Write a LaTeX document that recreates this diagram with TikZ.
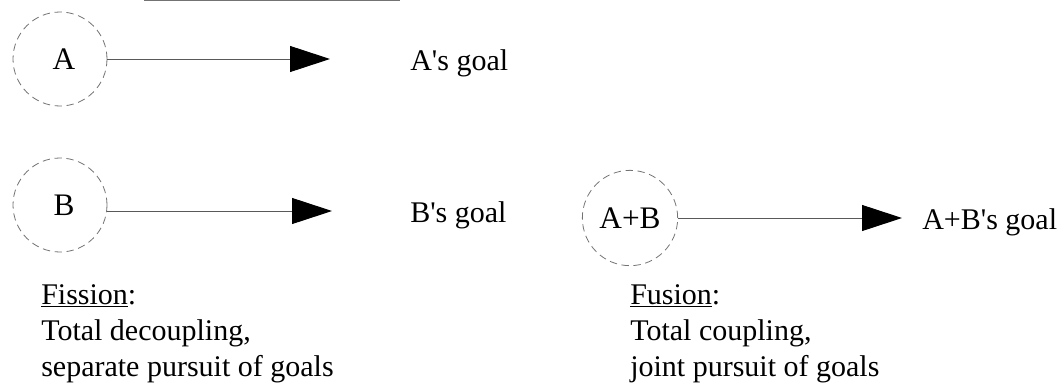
\documentclass[tikz,border=0pt]{standalone}
\usepackage{fontspec}
\setmainfont{Liberation Serif}
\newfontfamily\goalfont{Liberation Serif}
\usetikzlibrary{arrows.meta}
\begin{document}
\begin{tikzpicture}[x=0.75pt,y=-0.75pt,
  agent/.style={circle,draw=black!55,dash pattern=on 5.5pt off 3.5pt,line width=0.6pt,minimum size=70.5pt,inner sep=0pt,font=\fontsize{23.5}{27}\selectfont},
  goalarrow/.style={draw=black!65,line width=0.75pt,-{Triangle[length=30pt,width=19.5pt,black]}},
  lbl/.style={inner sep=0pt,font=\goalfont\fontsize{22.5}{27}\selectfont},
  note/.style={inner sep=0pt,align=left,font=\fontsize{22.5}{27}\selectfont}]
\useasboundingbox (0,0) rectangle (1064,389);
% top border remnant
\draw[black!55,line width=0.9pt] (144,0.6) -- (400,0.6);
% A
\node[agent] (A) at (60,59) {\hspace*{6pt}A};
\coordinate (At) at (330,59);
\draw[goalarrow] (A.east) -- (At);
\node[lbl,anchor=base west] (Ag) at (410,70) {A's goal};
% B
\node[agent] (B) at (60,205) {\hspace*{6pt}B};
\coordinate (Bt) at (332,211);
\draw[goalarrow] (B.east |- Bt) -- (Bt);
\node[lbl,anchor=base west] (Bg) at (410,222) {B's goal};
% A+B
\node[agent,minimum size=71.5pt] (AB) at (630,218) {A+B};
\coordinate (ABt) at (902,218);
\draw[goalarrow] (AB.east) -- (ABt);
\node[lbl,anchor=base west] (ABg) at (922,229) {A+B's goal};
% notes
\node[note,anchor=north west] (fis) at (41,284) {\underline{Fission}:\\Total decoupling,\\separate pursuit of goals};
\node[note,anchor=north west] (fus) at (630,284) {\underline{Fusion}:\\Total coupling,\\joint pursuit of goals};
\end{tikzpicture}
\end{document}
